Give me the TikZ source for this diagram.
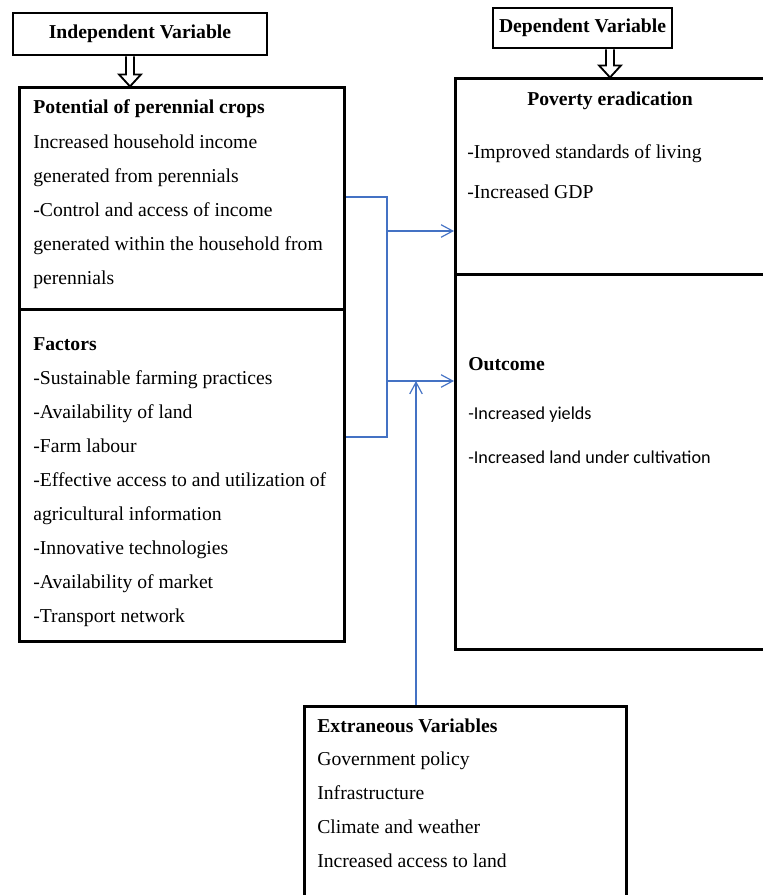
\documentclass[tikz,border=0pt]{standalone}
\usepackage{fontspec}
\setmainfont{Liberation Serif}
\newfontfamily\calibfont{Carlito}
\usepackage{tikz}
\usetikzlibrary{positioning,calc,arrows.meta}

\definecolor{linkblue}{RGB}{68,114,196}
\newcommand{\bodysize}{\fontsize{11.8}{14}\selectfont}

\tikzset{
  frame/.style={draw, rectangle, line width=1.7pt, inner sep=0pt, anchor=north west},
  head/.style={frame, anchor=center, font=\bodysize\bfseries},
  txt/.style={anchor=base west, inner sep=0pt, font=\bodysize},
  ttl/.style={txt, font=\bodysize\bfseries},
  ctxt/.style={txt, font=\calibfont\fontsize{10.9}{13}\selectfont},
  link/.style={draw=linkblue, line width=0.7pt},
  linkarrow/.style={link, -{Straight Barb[length=7pt,width=7.5pt]}},
  pics/hollowarrow/.style={code={
    \draw[line width=1.1pt, line join=miter]
      (-4,0) -- (-4,#1-12) -- (-11,#1-12) -- (0,#1) -- (11,#1-12) -- (4,#1-12) -- (4,0);
  }}
}

\begin{document}
\begin{tikzpicture}[x=0.6pt,y=-0.6pt]
\useasboundingbox (0,0) rectangle (762,895);

% variable headings
\node[head, minimum width=152.4pt, minimum height=25.2pt] (indep) at (140,34) {Independent Variable};
\node[head, minimum width=107.4pt, minimum height=24pt] (dep) at (582.5,28) {Dependent Variable};

% boxes
\node[frame, minimum width=195pt, minimum height=133.2pt] (potbox) at (18,86) {};
\node[frame, minimum width=195pt, minimum height=199.2pt] (facbox) at (18,308) {};
\node[frame, minimum width=187.2pt, minimum height=117.6pt] (povbox) at (454,77) {};
\node[frame, minimum width=187.2pt, minimum height=225pt] (outbox) at (454,273) {};
\node[frame, minimum width=193.2pt, minimum height=129pt] (extbox) at (303,705) {};

% hollow arrows
\coordinate (indx) at (130,0);
\coordinate (depx) at (610,0);
\pic at (indep.south -| indx) {hollowarrow=30};
\pic at (dep.south -| depx) {hollowarrow=28};

% links
\coordinate (tapA) at (387,197);
\coordinate (tapB) at (387,437);
\coordinate (hitA) at (387,231);
\coordinate (hitB) at (387,381);
\coordinate (rise) at (416,381);
\draw[link] (potbox.east |- tapA) -- (tapA) -- (tapB) -- (facbox.east |- tapB);
\draw[linkarrow] (hitA) -- (povbox.west |- hitA);
\draw[linkarrow] (hitB) -- (outbox.west |- hitB);
\draw[linkarrow] (extbox.north -| rise) -- (rise);

% texts
\node[ttl] (potttl) at (33,113) {Potential of perennial crops};
\foreach \t [count=\i] in {Increased household income, generated from perennials,
  -Control and access of income, generated within the household from, perennials}
  \node[txt] (pot\i) at (33,{148+34*(\i-1)}) {\t};

\node[ttl] (facttl) at (33,350) {Factors};
\foreach \t [count=\i] in {-Sustainable farming practices, -Availability of land,
  -Farm labour, -Effective access to and utilization of, agricultural information,
  -Innovative technologies, -Availability of market, -Transport network}
  \node[txt] (fac\i) at (33,{384+34*(\i-1)}) {\t};

\node[ttl, anchor=base] (povttl) at (610,105) {Poverty eradication};
\node[txt] (pov1) at (467,158) {-Improved standards of living};
\node[txt] (pov2) at (467,198) {-Increased GDP};

\node[ttl] (outttl) at (468,370) {Outcome};
\node[ctxt] (out1) at (468,419) {-Increased yields};
\node[ctxt] (out2) at (468,463) {-Increased land under cultivation};

\node[ttl] (extttl) at (317,732) {Extraneous Variables};
\foreach \t [count=\i] in {Government policy, Infrastructure, Climate and weather,
  Increased access to land}
  \node[txt] (ext\i) at (317,{765+34*(\i-1)}) {\t};
\end{tikzpicture}
\end{document}
